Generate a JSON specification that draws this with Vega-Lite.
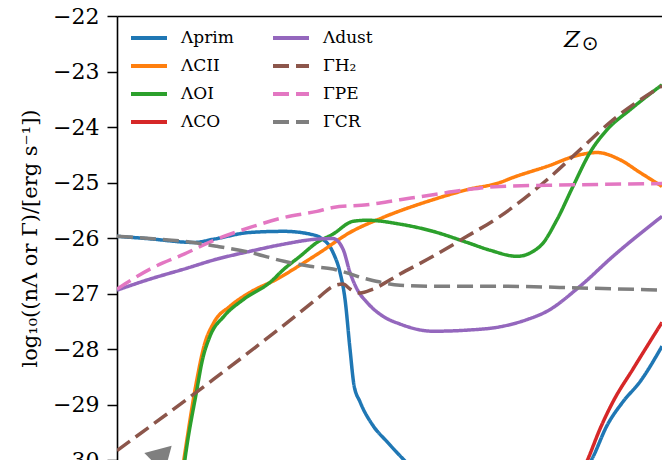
{
  "$schema": "https://vega.github.io/schema/vega-lite/v6.json",
  "width": 545,
  "height": 444,
  "autosize": "none",
  "padding": {"left": 117, "top": 16, "right": 0, "bottom": 0},
  "background": "white",
  "config": {"view": {"stroke": null}, "font": "DejaVu Serif"},
  "datasets": {
    "curves": [
      {"series": "Λprim", "x": 0, "v": -25.97},
      {"series": "Λprim", "x": 30, "v": -26.01},
      {"series": "Λprim", "x": 77, "v": -26.08},
      {"series": "Λprim", "x": 97, "v": -26.02},
      {"series": "Λprim", "x": 133, "v": -25.9},
      {"series": "Λprim", "x": 167, "v": -25.88},
      {"series": "Λprim", "x": 193, "v": -25.93},
      {"series": "Λprim", "x": 203, "v": -25.99},
      {"series": "Λprim", "x": 216, "v": -26.26},
      {"series": "Λprim", "x": 223, "v": -26.62},
      {"series": "Λprim", "x": 228, "v": -27.1},
      {"series": "Λprim", "x": 233, "v": -28.0},
      {"series": "Λprim", "x": 237, "v": -28.65},
      {"series": "Λprim", "x": 243, "v": -28.95},
      {"series": "Λprim", "x": 256, "v": -29.38},
      {"series": "Λprim", "x": 270, "v": -29.67},
      {"series": "Λprim", "x": 286, "v": -29.98},
      {"series": "Λprim", "x": 310, "v": -30.4},
      {"series": "Λprim", "x": 350, "v": -30.8},
      {"series": "Λprim", "x": 400, "v": -30.9},
      {"series": "Λprim", "x": 445, "v": -30.6},
      {"series": "Λprim", "x": 475, "v": -29.98},
      {"series": "Λprim", "x": 490, "v": -29.38},
      {"series": "Λprim", "x": 506, "v": -28.95},
      {"series": "Λprim", "x": 523, "v": -28.59},
      {"series": "Λprim", "x": 545, "v": -27.95},

      {"series": "ΛCII", "x": 61, "v": -30.7},
      {"series": "ΛCII", "x": 67, "v": -29.98},
      {"series": "ΛCII", "x": 80, "v": -28.54},
      {"series": "ΛCII", "x": 87, "v": -27.95},
      {"series": "ΛCII", "x": 97, "v": -27.52},
      {"series": "ΛCII", "x": 113, "v": -27.23},
      {"series": "ΛCII", "x": 133, "v": -26.98},
      {"series": "ΛCII", "x": 160, "v": -26.74},
      {"series": "ΛCII", "x": 183, "v": -26.49},
      {"series": "ΛCII", "x": 203, "v": -26.26},
      {"series": "ΛCII", "x": 233, "v": -25.9},
      {"series": "ΛCII", "x": 266, "v": -25.63},
      {"series": "ΛCII", "x": 316, "v": -25.31},
      {"series": "ΛCII", "x": 350, "v": -25.13},
      {"series": "ΛCII", "x": 383, "v": -25.0},
      {"series": "ΛCII", "x": 396, "v": -24.91},
      {"series": "ΛCII", "x": 430, "v": -24.71},
      {"series": "ΛCII", "x": 463, "v": -24.5},
      {"series": "ΛCII", "x": 480, "v": -24.46},
      {"series": "ΛCII", "x": 503, "v": -24.59},
      {"series": "ΛCII", "x": 523, "v": -24.82},
      {"series": "ΛCII", "x": 545, "v": -25.07},

      {"series": "ΛOI", "x": 63, "v": -30.7},
      {"series": "ΛOI", "x": 68, "v": -29.98},
      {"series": "ΛOI", "x": 80, "v": -28.72},
      {"series": "ΛOI", "x": 85, "v": -28.23},
      {"series": "ΛOI", "x": 93, "v": -27.77},
      {"series": "ΛOI", "x": 107, "v": -27.41},
      {"series": "ΛOI", "x": 127, "v": -27.1},
      {"series": "ΛOI", "x": 153, "v": -26.8},
      {"series": "ΛOI", "x": 167, "v": -26.56},
      {"series": "ΛOI", "x": 183, "v": -26.33},
      {"series": "ΛOI", "x": 200, "v": -26.08},
      {"series": "ΛOI", "x": 216, "v": -25.93},
      {"series": "ΛOI", "x": 236, "v": -25.7},
      {"series": "ΛOI", "x": 250, "v": -25.68},
      {"series": "ΛOI", "x": 283, "v": -25.75},
      {"series": "ΛOI", "x": 316, "v": -25.88},
      {"series": "ΛOI", "x": 350, "v": -26.08},
      {"series": "ΛOI", "x": 373, "v": -26.22},
      {"series": "ΛOI", "x": 400, "v": -26.33},
      {"series": "ΛOI", "x": 423, "v": -26.15},
      {"series": "ΛOI", "x": 440, "v": -25.67},
      {"series": "ΛOI", "x": 456, "v": -25.07},
      {"series": "ΛOI", "x": 473, "v": -24.46},
      {"series": "ΛOI", "x": 490, "v": -24.05},
      {"series": "ΛOI", "x": 513, "v": -23.69},
      {"series": "ΛOI", "x": 545, "v": -23.24},

      {"series": "ΛCO", "x": 440, "v": -31.0},
      {"series": "ΛCO", "x": 458, "v": -30.5},
      {"series": "ΛCO", "x": 471, "v": -29.98},
      {"series": "ΛCO", "x": 483, "v": -29.44},
      {"series": "ΛCO", "x": 496, "v": -28.95},
      {"series": "ΛCO", "x": 516, "v": -28.36},
      {"series": "ΛCO", "x": 545, "v": -27.52},

      {"series": "Λdust", "x": 0, "v": -26.94},
      {"series": "Λdust", "x": 33, "v": -26.74},
      {"series": "Λdust", "x": 67, "v": -26.56},
      {"series": "Λdust", "x": 100, "v": -26.38},
      {"series": "Λdust", "x": 133, "v": -26.24},
      {"series": "Λdust", "x": 167, "v": -26.11},
      {"series": "Λdust", "x": 200, "v": -26.02},
      {"series": "Λdust", "x": 216, "v": -26.01},
      {"series": "Λdust", "x": 226, "v": -26.2},
      {"series": "Λdust", "x": 233, "v": -26.62},
      {"series": "Λdust", "x": 240, "v": -26.92},
      {"series": "Λdust", "x": 250, "v": -27.16},
      {"series": "Λdust", "x": 266, "v": -27.41},
      {"series": "Λdust", "x": 283, "v": -27.55},
      {"series": "Λdust", "x": 316, "v": -27.68},
      {"series": "Λdust", "x": 350, "v": -27.66},
      {"series": "Λdust", "x": 383, "v": -27.6},
      {"series": "Λdust", "x": 410, "v": -27.47},
      {"series": "Λdust", "x": 430, "v": -27.32},
      {"series": "Λdust", "x": 463, "v": -26.87},
      {"series": "Λdust", "x": 496, "v": -26.33},
      {"series": "Λdust", "x": 545, "v": -25.61},

      {"series": "ΓH₂", "x": 0, "v": -29.83},
      {"series": "ΓH₂", "x": 97, "v": -28.54},
      {"series": "ΓH₂", "x": 183, "v": -27.34},
      {"series": "ΓH₂", "x": 203, "v": -27.05},
      {"series": "ΓH₂", "x": 216, "v": -26.87},
      {"series": "ΓH₂", "x": 226, "v": -26.83},
      {"series": "ΓH₂", "x": 233, "v": -26.92},
      {"series": "ΓH₂", "x": 243, "v": -26.99},
      {"series": "ΓH₂", "x": 256, "v": -26.92},
      {"series": "ΓH₂", "x": 283, "v": -26.65},
      {"series": "ΓH₂", "x": 316, "v": -26.33},
      {"series": "ΓH₂", "x": 350, "v": -25.97},
      {"series": "ΓH₂", "x": 383, "v": -25.61},
      {"series": "ΓH₂", "x": 430, "v": -24.95},
      {"series": "ΓH₂", "x": 463, "v": -24.41},
      {"series": "ΓH₂", "x": 496, "v": -23.87},
      {"series": "ΓH₂", "x": 545, "v": -23.26},

      {"series": "ΓPE", "x": 0, "v": -26.92},
      {"series": "ΓPE", "x": 33, "v": -26.56},
      {"series": "ΓPE", "x": 67, "v": -26.29},
      {"series": "ΓPE", "x": 100, "v": -26.02},
      {"series": "ΓPE", "x": 133, "v": -25.81},
      {"series": "ΓPE", "x": 167, "v": -25.63},
      {"series": "ΓPE", "x": 200, "v": -25.52},
      {"series": "ΓPE", "x": 216, "v": -25.45},
      {"series": "ΓPE", "x": 250, "v": -25.4},
      {"series": "ΓPE", "x": 283, "v": -25.31},
      {"series": "ΓPE", "x": 316, "v": -25.22},
      {"series": "ΓPE", "x": 350, "v": -25.13},
      {"series": "ΓPE", "x": 383, "v": -25.07},
      {"series": "ΓPE", "x": 430, "v": -25.05},
      {"series": "ΓPE", "x": 545, "v": -25.02},

      {"series": "ΓCR", "x": 0, "v": -25.97},
      {"series": "ΓCR", "x": 33, "v": -26.01},
      {"series": "ΓCR", "x": 67, "v": -26.06},
      {"series": "ΓCR", "x": 100, "v": -26.15},
      {"series": "ΓCR", "x": 133, "v": -26.26},
      {"series": "ΓCR", "x": 167, "v": -26.42},
      {"series": "ΓCR", "x": 193, "v": -26.51},
      {"series": "ΓCR", "x": 216, "v": -26.56},
      {"series": "ΓCR", "x": 250, "v": -26.74},
      {"series": "ΓCR", "x": 283, "v": -26.85},
      {"series": "ΓCR", "x": 316, "v": -26.87},
      {"series": "ΓCR", "x": 383, "v": -26.87},
      {"series": "ΓCR", "x": 463, "v": -26.9},
      {"series": "ΓCR", "x": 545, "v": -26.94}
    ]
  },
  "layer": [
    {
      "data": {"name": "curves"},
      "mark": {"type": "line", "interpolate": "monotone", "clip": true, "strokeWidth": 3.5},
      "encoding": {
        "x": {
          "field": "x", "type": "quantitative",
          "scale": {"domain": [0, 545], "nice": false, "zero": false},
          "axis": {"orient": "top", "title": null, "labels": false, "ticks": false, "grid": false, "domainColor": "black", "domainWidth": 1.6}
        },
        "y": {
          "field": "v", "type": "quantitative",
          "scale": {"domain": [-30, -22], "nice": false, "zero": false},
          "axis": {
            "values": [-30, -29, -28, -27, -26, -25, -24, -23, -22],
            "format": "d",
            "grid": false, "domainColor": "black", "domainWidth": 1.6,
            "tickColor": "black", "tickSize": 10, "tickWidth": 1.5,
            "labelFont": "DejaVu Serif", "labelFontSize": 22, "labelColor": "black", "labelPadding": 8,
            "title": "log₁₀((nΛ or Γ)/[erg s⁻¹])",
            "titleFont": "DejaVu Serif", "titleFontSize": 21, "titleFontWeight": "normal", "titleColor": "black", "titlePadding": 12
          }
        },
        "color": {
          "field": "series", "type": "nominal",
          "scale": {
            "domain": ["Λprim", "ΛCII", "ΛOI", "ΛCO", "Λdust", "ΓH₂", "ΓPE", "ΓCR"],
            "range": ["#1f77b4", "#ff7f0e", "#2ca02c", "#d62728", "#9467bd", "#8c564b", "#e377c2", "#7f7f7f"]
          },
          "legend": {"orient": "none", "legendX": 12, "legendY": 2, "columns": 2, "title": null, "symbolType": "stroke", "symbolSize": 1296, "symbolStrokeWidth": 3.8, "labelFont": "DejaVu Serif", "labelFontSize": 17, "labelColor": "black", "columnPadding": 31, "rowPadding": -13, "labelOffset": 12, "padding": 0}
        },
        "strokeDash": {
          "field": "series", "type": "nominal",
          "scale": {
            "domain": ["Λprim", "ΛCII", "ΛOI", "ΛCO", "Λdust", "ΓH₂", "ΓPE", "ΓCR"],
            "range": [[1, 0], [1, 0], [1, 0], [1, 0], [1, 0], [16, 7], [16, 7], [16, 7]]
          },
          "legend": {"orient": "none", "legendX": 12, "legendY": 2, "columns": 2, "title": null, "symbolType": "stroke", "symbolSize": 1296, "symbolStrokeWidth": 3.8, "labelFont": "DejaVu Serif", "labelFontSize": 17, "labelColor": "black", "columnPadding": 31, "rowPadding": -13, "labelOffset": 12, "padding": 0}
        }
      }
    },
    {
      "data": {"values": [{}]},
      "mark": {"type": "point", "shape": "triangle-up", "filled": true, "color": "#7f7f7f", "opacity": 1, "size": 800, "angle": 45},
      "encoding": {
        "x": {"datum": 46, "type": "quantitative"},
        "y": {"datum": -29.9, "type": "quantitative"}
      }
    },
    {
      "data": {"values": [{}]},
      "mark": {"type": "text", "text": "Z", "font": "DejaVu Serif", "fontStyle": "italic", "fontSize": 23, "color": "black", "align": "center", "baseline": "middle"},
      "encoding": {
        "x": {"datum": 455, "type": "quantitative"},
        "y": {"datum": -22.43, "type": "quantitative"}
      }
    },
    {
      "data": {"values": [{}]},
      "mark": {"type": "text", "text": "⊙", "font": "DejaVu Sans", "fontSize": 20, "color": "black", "align": "center", "baseline": "middle"},
      "encoding": {
        "x": {"datum": 473, "type": "quantitative"},
        "y": {"datum": -22.5, "type": "quantitative"}
      }
    }
  ]
}
